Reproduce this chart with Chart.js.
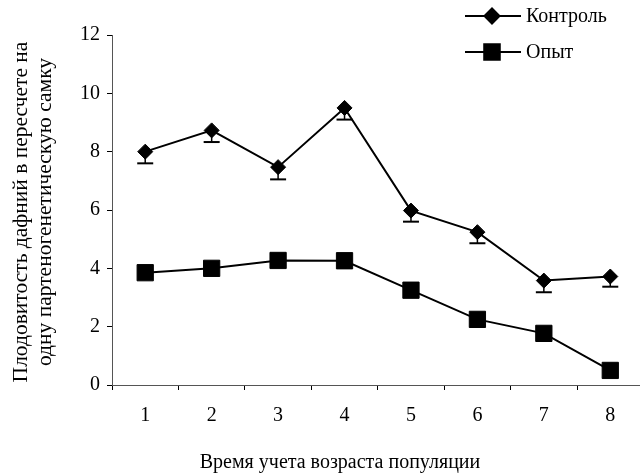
<!DOCTYPE html>
<html>
<head>
<meta charset="utf-8">
<script src="https://cdn.jsdelivr.net/npm/chart.js@4/dist/chart.umd.min.js"></script>
<style>
  html, body { margin: 0; padding: 0; background: #fff; }
  #wrap { width: 640px; height: 474px; overflow: hidden; position: relative; }
  canvas { display: block; }
</style>
</head>
<body>
<div id="wrap"><canvas id="c" width="656" height="474"></canvas></div>
<script>
// Age-of-population sampling times
const categories = ['1', '2', '3', '4', '5', '6', '7', '8'];
// Fecundity per parthenogenetic female
const controlValues = [8.0, 8.73, 7.47, 9.5, 5.98, 5.24, 3.58, 3.72];
const controlErrors = [0.4, 0.4, 0.42, 0.4, 0.38, 0.38, 0.4, 0.35];
const experimentValues = [3.85, 4.0, 4.27, 4.26, 3.25, 2.25, 1.77, 0.5];
const yTicks = [0, 2, 4, 6, 8, 10, 12];

const seriesNames = ['Контроль', 'Опыт'];
const xTitle = 'Время учета возраста популяции';
const yTitleLines = ['Плодовитость дафний в пересчете на', 'одну партеногенетическую самку'];

const FONT = '"Liberation Serif", "Times New Roman", serif';

// Downward-only error bars for the control series
const errorBars = {
  id: 'errorBars',
  beforeDatasetsDraw(chart) {
    const ctx = chart.ctx;
    const meta = chart.getDatasetMeta(0);
    const y = chart.scales.y;
    ctx.save();
    ctx.strokeStyle = '#000';
    meta.data.forEach((pt, i) => {
      const yTop = y.getPixelForValue(controlValues[i]);
      const yLow = y.getPixelForValue(controlValues[i] - controlErrors[i]);
      ctx.lineWidth = 1.5;
      ctx.beginPath();
      ctx.moveTo(pt.x, yTop);
      ctx.lineTo(pt.x, yLow);
      ctx.stroke();
      ctx.lineWidth = 2;
      ctx.beginPath();
      ctx.moveTo(pt.x - 8, yLow);
      ctx.lineTo(pt.x + 8, yLow);
      ctx.stroke();
    });
    ctx.restore();
  }
};

// Axis titles and legend
const annotations = {
  id: 'annotations',
  afterDraw(chart) {
    const ctx = chart.ctx;
    ctx.save();
    ctx.fillStyle = '#000';
    ctx.font = '20px ' + FONT;
    ctx.textAlign = 'center';
    ctx.textBaseline = 'middle';
    ctx.fillText(xTitle, 340, 463);

    ctx.save();
    ctx.translate(21, 212);
    ctx.rotate(-Math.PI / 2);
    ctx.font = '21.5px ' + FONT;
    ctx.fillText(yTitleLines[0], 0, 0);
    ctx.fillText(yTitleLines[1], 0, 24);
    ctx.restore();

    // legend
    const rows = [
      { y: 16, style: 'rectRot', r: 7.5 },
      { y: 52, style: 'rect', r: 11 }
    ];
    ctx.font = '20px ' + FONT;
    ctx.textAlign = 'left';
    rows.forEach((row, i) => {
      ctx.strokeStyle = '#000';
      ctx.lineWidth = 2;
      ctx.beginPath();
      ctx.moveTo(465, row.y);
      ctx.lineTo(521, row.y);
      ctx.stroke();
      Chart.helpers.drawPoint(ctx, { pointStyle: row.style, radius: row.r, borderWidth: 1 }, 492, row.y);
      ctx.fillStyle = '#000';
      ctx.fill();
      ctx.fillText(seriesNames[i], 526, row.y + 1);
    });
    ctx.restore();
  }
};

new Chart(document.getElementById('c'), {
  type: 'line',
  data: {
    labels: categories,
    datasets: [
      {
        label: seriesNames[0],
        data: controlValues,
        borderColor: '#000',
        backgroundColor: '#000',
        borderWidth: 2,
        pointStyle: 'rectRot',
        pointRadius: 7.5,
        pointBorderWidth: 1,
        tension: 0
      },
      {
        label: seriesNames[1],
        data: experimentValues,
        borderColor: '#000',
        backgroundColor: '#000',
        borderWidth: 2,
        pointStyle: 'rect',
        pointRadius: 11.5,
        pointBorderWidth: 1,
        tension: 0
      }
    ]
  },
  options: {
    responsive: false,
    animation: false,
    layout: { padding: { top: 35, right: 1, left: 0, bottom: 0 } },
    plugins: {
      legend: { display: false },
      tooltip: { enabled: false }
    },
    scales: {
      x: {
        offset: true,
        grid: {
          offset: true,
          drawOnChartArea: false,
          drawTicks: true,
          tickLength: 5,
          color: '#000'
        },
        border: { color: '#555', width: 1 },
        ticks: {
          color: '#000',
          font: { family: FONT, size: 20 },
          padding: 14,
          maxRotation: 0
        },
        afterFit(scale) {
          scale.height = 89;
          scale.paddingLeft = 0;
          scale.paddingRight = 0;
        }
      },
      y: {
        min: 0,
        max: 12,
        afterBuildTicks(scale) { scale.ticks = yTicks.map(v => ({ value: v })); },
        grid: {
          drawOnChartArea: false,
          drawTicks: true,
          tickLength: 5,
          color: '#000'
        },
        border: { color: '#555', width: 1 },
        ticks: {
          color: '#000',
          font: { family: FONT, size: 20 },
          padding: 7
        },
        afterFit(scale) {
          scale.width = 112;
          scale.paddingTop = 0;
          scale.paddingBottom = 0;
        }
      }
    }
  },
  plugins: [errorBars, annotations]
});
</script>
</body>
</html>
